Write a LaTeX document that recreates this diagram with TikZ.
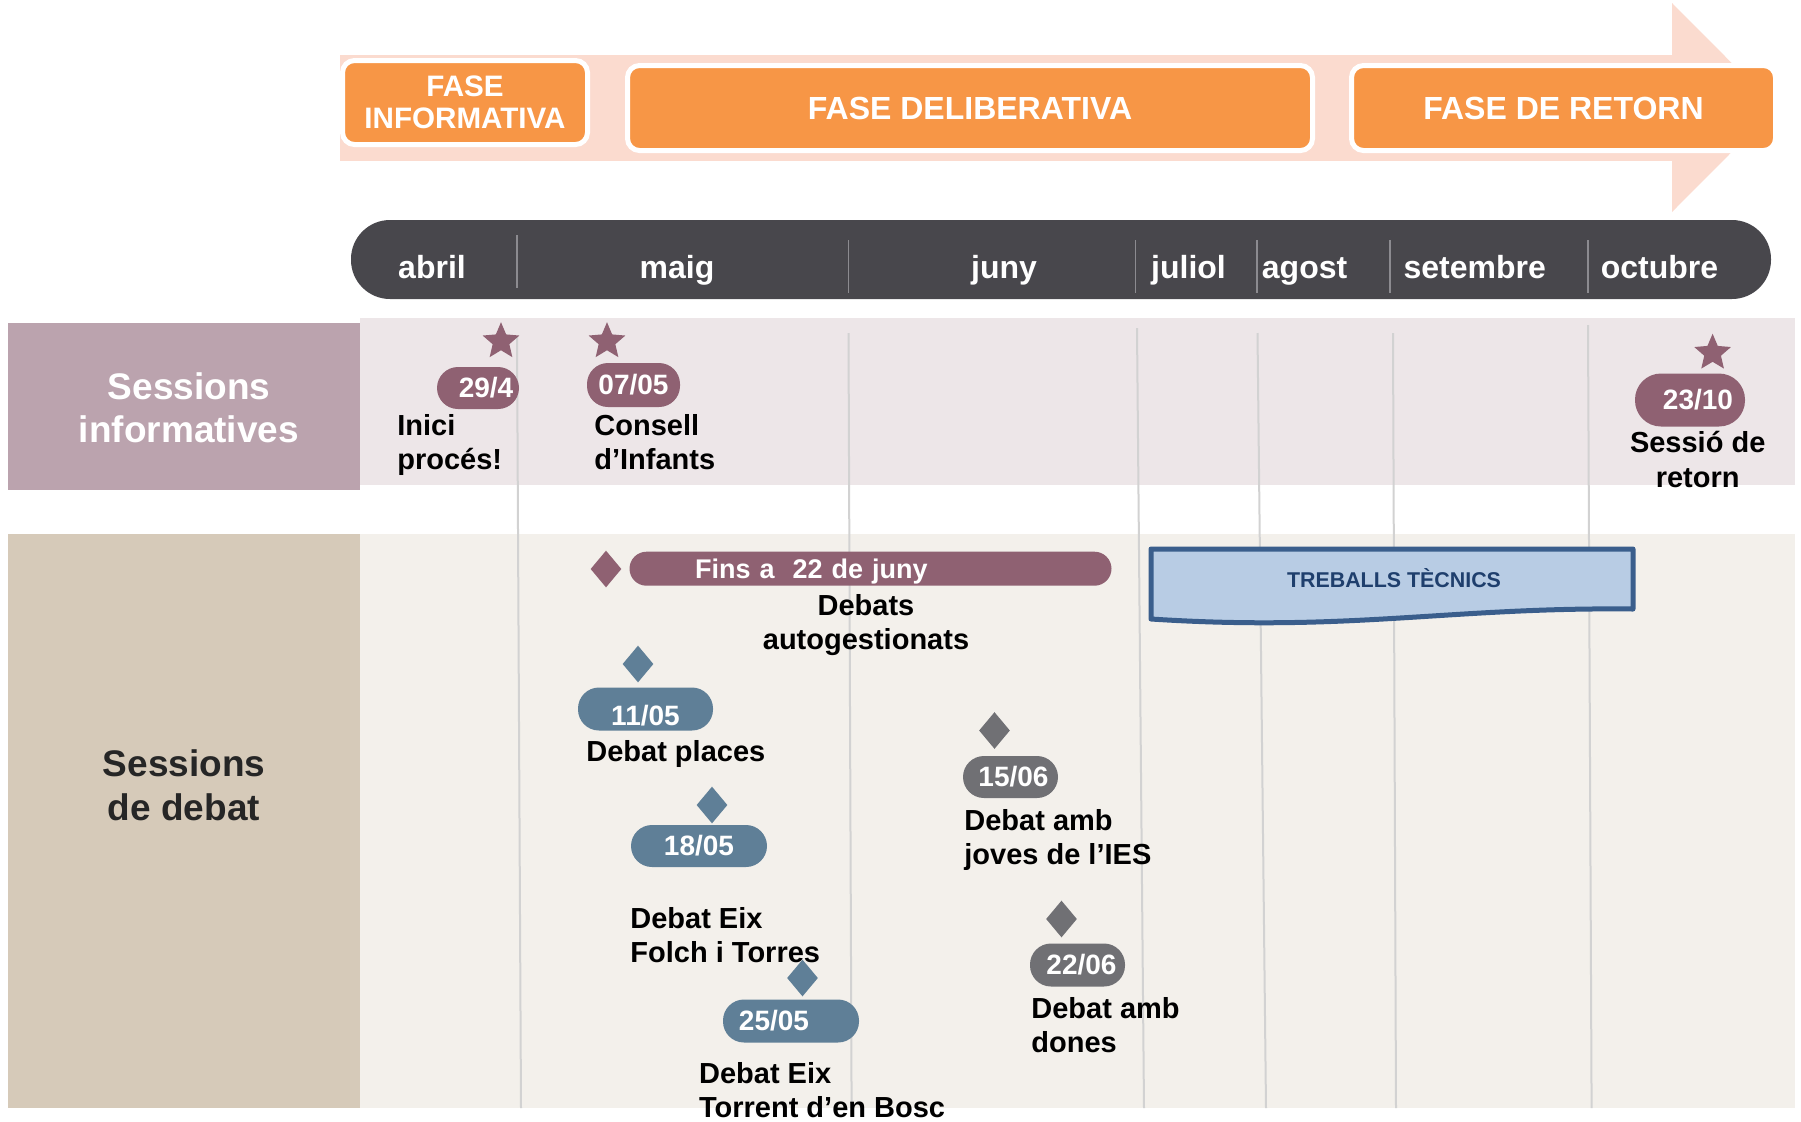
\documentclass[tikz,border=0pt]{standalone}
\usepackage{fontspec}
\setmainfont{Liberation Sans}
\usepackage{tikz}
\usetikzlibrary{shapes.geometric}

\definecolor{phaseorange}{HTML}{F79646}
\definecolor{arrowpink}{HTML}{FBDBCF}
\definecolor{barcolor}{HTML}{48474C}
\definecolor{sepgrey}{HTML}{8C8B90}
\definecolor{mauvebox}{HTML}{BBA3AE}
\definecolor{infolight}{HTML}{EDE6E8}
\definecolor{beigebox}{HTML}{D6CAB9}
\definecolor{debatlight}{HTML}{F3F0EB}
\definecolor{eventmauve}{HTML}{8F6172}
\definecolor{slate}{HTML}{5F7F97}
\definecolor{badgegrey}{HTML}{707074}
\definecolor{gridgrey}{HTML}{D2D2D2}
\definecolor{trebfill}{HTML}{B8CCE4}
\definecolor{trebline}{HTML}{3A5E8C}
\definecolor{trebtext}{HTML}{1F3F6D}
\definecolor{labeldark}{HTML}{262626}

\tikzset{
  phase/.style={draw=white, line width=2.5pt, fill=phaseorange, rounded corners=6pt, text=white, align=center, inner sep=0pt},
  month/.style={text=white, anchor=base, font=\bfseries\fontsize{16}{18}\selectfont},
  datebadge/.style={rounded corners=10.5pt, text=white, inner sep=0pt, font=\bfseries\fontsize{14}{16}\selectfont},
  eventstar/.style={star, star points=5, star point ratio=2.2, fill=eventmauve, inner sep=0pt, minimum size=19.3pt},
  debatdiamond/.style={diamond, inner sep=0pt, minimum width=15.5pt, minimum height=18.5pt},
  eventlabel/.style={align=left, anchor=base west, inner sep=0pt, font=\bfseries\fontsize{14.5}{17}\selectfont},
  rowlabel/.style={align=center, anchor=base, inner sep=0pt, font=\bfseries\fontsize{18.5}{21.5}\selectfont},
  gridline/.style={draw=gridgrey, line width=1pt}
}

\begin{document}
\begin{tikzpicture}[x=0.5pt, y=-0.5pt]
\useasboundingbox (0,0) rectangle (1801,1121);

% phases
\fill[arrowpink] (340,55) rectangle (1672,161);
\fill[arrowpink] (1672,3) -- (1776,107.5) -- (1672,212) -- cycle;
\node (finfo) [phase, minimum width=122.5pt, minimum height=42pt, font=\bfseries\fontsize{14.8}{16}\selectfont] at (465,102.5) {FASE\\INFORMATIVA};
\node (fdelib) [phase, minimum width=342.5pt, minimum height=42.5pt, font=\bfseries\fontsize{16}{18}\selectfont] at (970,108) {FASE DELIBERATIVA};
\node (fretorn) [phase, minimum width=212pt, minimum height=42.5pt, font=\bfseries\fontsize{16}{18}\selectfont] at (1563.5,108) {FASE DE RETORN};

% months
\node (monthbar) [fill=barcolor, rounded corners=19.5pt, minimum width=710pt, minimum height=39.5pt] at (1061,259.5) {};
\draw[sepgrey, line width=0.6pt] (517,235) -- (517,288);
\foreach \x in {848.5,1135.6,1257,1390,1588}
  \draw[sepgrey, line width=0.6pt] (\x,240) -- (\x,293);
\foreach \x/\m in {432/abril,677/maig,1004/juny,1188.5/juliol,1304.6/agost,1474.7/setembre,1659.5/octubre}
  \node (\m) [month] at (\x,278) {\m};

% rows
\fill[infolight] (360,318) rectangle (1795,485);
\fill[mauvebox] (8,323) rectangle (360,490);
\fill[debatlight] (360,534) rectangle (1795,1108);
\fill[beigebox] (8,534) rectangle (360,1108);
\node (rowinfo) [rowlabel, text=white] at (189,442) {Sessions\\informatives};
\node (rowdebat) [rowlabel, text=labeldark, font=\bfseries\fontsize{18.5}{22}\selectfont] at (184,820) {Sessions\\de debat};

\foreach \xa/\ya/\xb in {517/337/521,848.5/333/851.6,1137/328/1144,1257.5/333/1266,1393/333/1396,1588/325/1591.6}
  \draw[gridline] (\xa,\ya) -- (\xb,1108);

% sessions informatives
\node (s294) [eventstar] at (501,341.5) {};
\node (s0705) [eventstar] at (607,341.5) {};
\node (s2310) [eventstar] at (1712.6,353) {};
\node (b294) [datebadge, fill=eventmauve, minimum width=41pt, minimum height=21pt] at (478,388) {\hspace{8pt}29/4};
\node (b0705) [datebadge, fill=eventmauve, minimum width=46.5pt, minimum height=22pt] at (633.5,385) {07/05};
\node (b2310) [datebadge, fill=eventmauve, rounded corners=13pt, minimum width=55pt, minimum height=26.5pt] at (1690,400) {\hspace{8pt}23/10};
\node (linici) [eventlabel] at (397,469) {Inici\\procés!};
\node (lconsell) [eventlabel] at (594,469) {Consell\\d’Infants};
\node (lretorn) [eventlabel, align=center, anchor=base, font=\bfseries\fontsize{14.5}{17.5}\selectfont] at (1697.7,487) {Sessió de\\retorn};

% sessions de debat
\node (dfins) [debatdiamond, fill=eventmauve] at (606,569) {};
\node (fins) [fill=eventmauve, rounded corners=8.5pt, minimum width=241pt, minimum height=17pt, inner ysep=0pt, inner xsep=32.75pt, text width=175.5pt, text height=9.3pt, text depth=0pt, align=left, text=white, font=\bfseries\fontsize{13.5}{16}\selectfont] at (870.5,568.7) {Fins a \ 22 de juny};
\node (lauto) [eventlabel, align=center, anchor=base] at (866,649) {Debats\\autogestionats};

\node (d1105) [debatdiamond, fill=slate] at (638,664) {};
\node (b1105) [datebadge, fill=slate, minimum width=67.5pt, minimum height=21.5pt, text height=16pt, text depth=0pt] at (645.5,709) {11/05};
\node (l1105) [eventlabel] at (586,761.7) {Debat places};

\node (d1805) [debatdiamond, fill=slate] at (712,805) {};
\node (b1805) [datebadge, fill=slate, minimum width=68pt, minimum height=21pt] at (699,846) {18/05};
\node (l1805) [eventlabel] at (630,962) {Debat Eix\\Folch i Torres};

\node (d2505) [debatdiamond, fill=slate] at (802.5,978) {};
\node (b2505) [datebadge, fill=slate, minimum width=68pt, minimum height=21.5pt] at (791,1021) {25/05\rule{17pt}{0pt}};
\node (l2505) [eventlabel] at (698.7,1117) {Debat Eix\\Torrent d’en Bosc};

\node (d1506) [debatdiamond, fill=badgegrey] at (994.5,730.5) {};
\node (b1506) [datebadge, fill=badgegrey, minimum width=47.5pt, minimum height=21pt] at (1010.5,777) {\hspace{3pt}15/06};
\node (l1506) [eventlabel] at (964,864) {Debat amb\\joves de l’IES};

\node (d2206) [debatdiamond, fill=badgegrey] at (1061.5,919) {};
\node (b2206) [datebadge, fill=badgegrey, minimum width=47.5pt, minimum height=21.5pt] at (1077.5,965) {\hspace{4pt}22/06};
\node (l2206) [eventlabel] at (1031,1052) {Debat amb\\dones};

% treballs tecnics
\draw[trebline, fill=trebfill, line width=2.5pt, line join=round] (1151,549) -- (1633,549) -- (1633,609) .. controls (1450,607) and (1350,632) .. (1151,619) -- cycle;
\node (treb) [text=trebtext, anchor=base, inner sep=0pt, font=\bfseries\fontsize{10.7}{12}\selectfont] at (1394,587) {TREBALLS TÈCNICS};
\end{tikzpicture}
\end{document}
